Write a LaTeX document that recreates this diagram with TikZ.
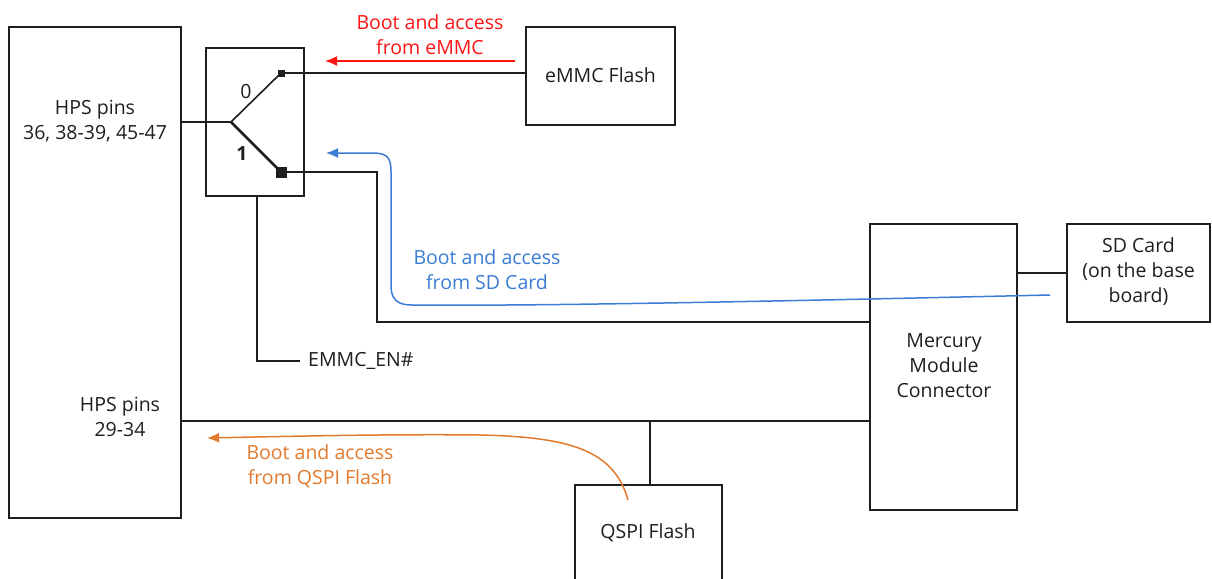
\documentclass[tikz,border=0pt]{standalone}
\usepackage{fontspec}
\setmainfont{Open Sans}
\usetikzlibrary{arrows.meta}
\definecolor{myred}{RGB}{255,20,20}
\definecolor{myblue}{RGB}{58,124,212}
\definecolor{myorange}{RGB}{226,122,46}
\definecolor{ink}{RGB}{30,30,30}
\tikzset{
  blk/.style={draw=ink, line width=1.6pt, rectangle, inner sep=0pt},
  wire/.style={draw=ink, line width=1.6pt},
  lbl/.style={font=\fontsize{19.5}{25}\selectfont, align=center, inner sep=0pt, text=ink},
  arr/.style={line width=1.5pt, -{Latex[length=12pt,width=10pt]}},
  contact/.style={fill=ink, inner sep=0pt, rectangle}
}
\begin{document}
\begin{tikzpicture}[x=1pt,y=-1pt]
\useasboundingbox (0,0) rectangle (1212,578);
\clip (0,0) rectangle (1212,578);
% boxes
\node[blk, minimum width=172pt, minimum height=491pt] (hps) at (95,272.5) {};
\node[blk, minimum width=98pt, minimum height=148pt] (sw) at (255,122) {};
\node[blk, minimum width=149pt, minimum height=98pt] (emmc) at (600.5,76) {};
\node[blk, minimum width=147pt, minimum height=286pt] (merc) at (943.5,367) {};
\node[blk, minimum width=143pt, minimum height=98pt] (sd) at (1138.5,273) {};
\node[blk, minimum width=147pt, minimum height=130pt] (qspi) at (648.5,550) {};
% box texts
\node[lbl] (hpsA) at (95,121.5) {HPS pins\\36, 38-39, 45-47};
\node[lbl] (hpsB) at (120,416.5) {HPS pins\\29-34};
\node[lbl] (emmct) at (600.5,75) {eMMC Flash};
\node[lbl] (merct) at (944,366) {Mercury\\Module\\Connector};
\node[lbl] (sdt) at (1138.5,272) {SD Card\\(on the base\\board)};
\node[lbl] (qspit) at (648,533) {QSPI Flash};
% switch internals
\coordinate (pivot) at (231,122);
\node[contact, minimum size=7pt] (c0) at (281,73) {};
\node[contact, minimum size=11pt] (c1) at (281,172) {};
\node[lbl] (l0) at (246,92) {0};
\node[lbl, font=\fontsize{19.5}{25}\selectfont\bfseries] (l1) at (242,154) {1};
\draw[wire] (hps.east |- pivot) -- (pivot);
\draw[wire] (pivot) -- (c0.center);
\draw[wire, line width=2.6pt] (pivot) -- (c1.center);
\draw[wire] (c0.center) -- (emmc.west |- c0);
\coordinate (sdv) at (377,322);
\draw[wire] (c1.center) -| (sdv) -- (merc.west |- sdv);
% enable
\coordinate (en) at (257,196);
\node[lbl, anchor=west] (ent) at (308,361) {EMMC\_EN\#};
\coordinate (ene) at (300,361);
\draw[wire] (en) |- (ene);
% other wires
\coordinate (sdm) at (1017,273);
\draw[wire] (sdm) -- (sd.west |- sdm);
\coordinate (qb) at (181,421);
\draw[wire] (qb) -- (merc.west |- qb);
\coordinate (qt) at (650,421);
\draw[wire] (qt) -- (qt |- qspi.north);
% arrows
\coordinate (rs) at (515,61);
\coordinate (re) at (325,61);
\draw[arr, myred] (rs) -- (re);
\node[lbl, text=myred] (rt) at (430,34.5) {Boot and access\\from eMMC};
\coordinate (bs) at (1050,295);
\coordinate (be) at (326,153);
\draw[arr, myblue] (bs) .. controls (700,303) and (520,306) .. (412,305)
  .. controls (390,305) and (391,292) .. (391,280) -- (391,172)
  .. controls (391,157) and (387,153) .. (372,153) -- (be);
\node[lbl, text=myblue] (bt) at (487,270) {Boot and access\\from SD Card};
\coordinate (os) at (628,500);
\coordinate (oe) at (207,438);
\draw[arr, myorange] (os) .. controls (614,450) and (570,437) .. (480,435)
  .. controls (400,434) and (300,436) .. (oe);
\node[lbl, text=myorange] (ot) at (320,466) {Boot and access\\from QSPI Flash};
\end{tikzpicture}
\end{document}
